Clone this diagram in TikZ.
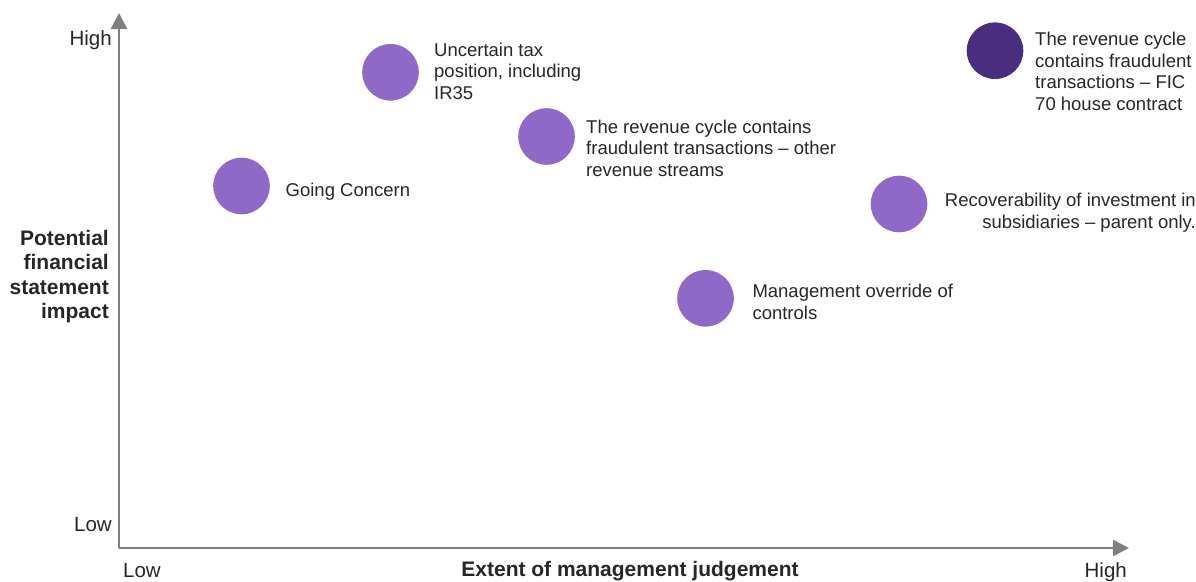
\documentclass[tikz,border=0pt]{standalone}
\usepackage{fontspec}
\setmainfont{Liberation Sans}
\usetikzlibrary{arrows.meta}
\definecolor{axisgray}{HTML}{7F7F7F}
\definecolor{lightpurple}{HTML}{9069C8}
\definecolor{darkpurple}{HTML}{4B2D7F}
\definecolor{txt}{HTML}{262626}
\tikzset{
  axis/.style={draw=axisgray, line width=2.5pt, -{Triangle[length=16pt,width=16pt]}},
  dot/.style={circle, inner sep=0pt, minimum size=56.6pt, fill=lightpurple, draw=none},
  darkdot/.style={dot, fill=darkpurple},
  lbl/.style={inner sep=0pt, text=txt, align=left, font=\fontsize{18.5}{21.5}\selectfont},
  rlbl/.style={lbl, align=right},
  axlbl/.style={inner sep=0pt, text=txt, font=\fontsize{20.5}{24}\selectfont},
  axtitle/.style={inner sep=0pt, text=txt, font=\fontsize{21}{24.5}\selectfont\bfseries},
}
\begin{document}
\begin{tikzpicture}[x=1pt,y=-1pt]
\useasboundingbox (0,0) rectangle (1196,581);
\coordinate (o) at (119,548);
\coordinate (ytip) at (119,13);
\coordinate (xtip) at (1129,548);
\draw[axis] (o) -- (ytip);
\draw[axis] (o) -- (xtip);

\node[axlbl, anchor=base east] (yhigh) at (112,45.7) {High};
\node[axlbl, anchor=base east] (ylow) at (112,531.7) {Low};
\node[axlbl, anchor=base west] (xlow) at (123,577.3) {Low};
\node[axlbl, anchor=base east] (xhigh) at (1127,577.3) {High};
\node[axtitle, anchor=base] (xtitle) at (630,576.8) {Extent of management judgement};
\node[axtitle, align=right, anchor=base east] (ytitle) at (109,318.5) {Potential\\financial\\statement\\impact};

\node[dot] (gc) at (241.5,186) {};
\node[lbl, anchor=base west] (gct) at (285.5,196.7) {Going Concern};

\node[dot] (tax) at (390.5,72.3) {};
\node[lbl, anchor=base west] (taxt) at (434,99) {Uncertain tax\\position, including\\IR35};

\node[dot] (rev) at (546.5,136.5) {};
\node[lbl, anchor=base west] (revt) at (586,176) {The revenue cycle contains\\fraudulent transactions -- other\\revenue streams};

\node[dot] (mo) at (705.5,298.3) {};
\node[lbl, anchor=base west] (mot) at (752.3,319.3) {Management override of\\controls};

\node[dot] (rec) at (899,204) {};
\node[rlbl, anchor=base east] (rect) at (1196,228.3) {Recoverability of investment in\\subsidiaries -- parent only.};

\node[darkdot] (fic) at (995,50.7) {};
\node[lbl, anchor=base west] (fict) at (1035,110.3) {The revenue cycle\\contains fraudulent\\transactions -- FIC\\70 house contract};
\end{tikzpicture}
\end{document}
